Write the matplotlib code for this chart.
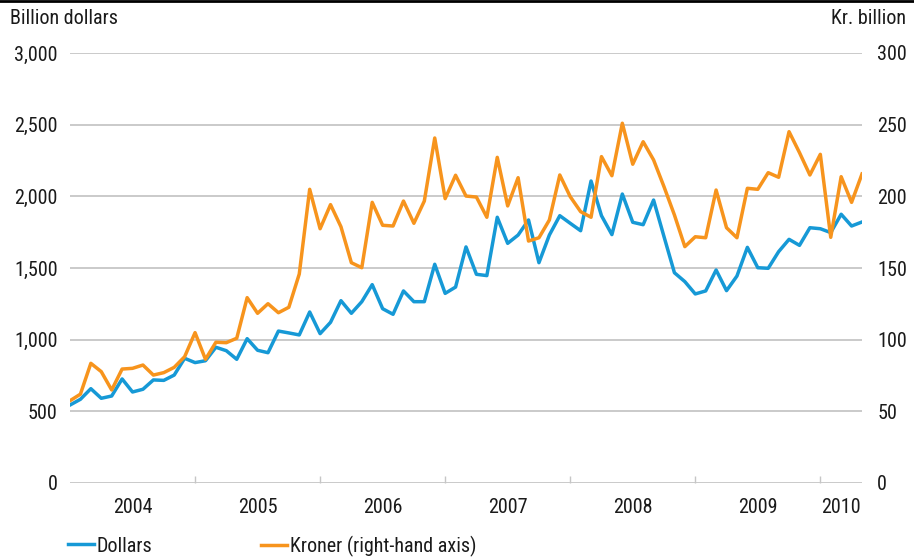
import matplotlib
matplotlib.use('Agg')
import matplotlib.pyplot as plt
from matplotlib.lines import Line2D
from matplotlib import font_manager

#=====================================================
# Monthly values, Jan 2004 - May 2010

dollars = [544, 584, 658, 591, 607, 726, 635, 654, 719, 716, 753, 870,
           840, 853, 947, 923, 863, 1007, 926, 909, 1060, 1047, 1033, 1193,
           1042, 1121, 1272, 1184, 1265, 1384, 1216, 1177, 1340, 1265, 1265, 1526,
           1323, 1367, 1647, 1456, 1447, 1854, 1672, 1730, 1835, 1537, 1730, 1865,
           1812, 1760, 2107, 1865, 1733, 2016, 1819, 1802, 1974, 1719, 1467, 1405,
           1319, 1340, 1486, 1342, 1444, 1644, 1502, 1498, 1614, 1700, 1658, 1781,
           1774, 1747, 1875, 1793, 1821]

kroner = [57.4, 62.0, 83.5, 77.7, 64.9, 79.5, 80.0, 82.3, 75.3, 77.0, 80.7, 88.1,
          104.9, 86.3, 98.2, 97.9, 101.0, 129.3, 118.4, 125.1, 118.8, 122.6, 145.8, 204.9,
          177.4, 194.2, 178.8, 153.7, 150.2, 195.8, 179.8, 179.3, 196.7, 181.2, 196.7, 240.7,
          198.4, 214.7, 200.2, 199.5, 185.4, 227.2, 193.3, 213.0, 168.8, 171.1, 183.5, 214.9,
          199.8, 189.3, 185.4, 227.7, 214.4, 251.0, 222.4, 238.1, 225.4, 206.7, 187.0, 164.9,
          171.8, 171.1, 204.4, 178.1, 171.1, 205.6, 204.9, 216.5, 213.3, 245.1, 230.5, 214.9,
          229.3, 171.4, 213.7, 195.8, 215.6]

years = ['2004', '2005', '2006', '2007', '2008', '2009', '2010']
left_ticks = [0, 500, 1000, 1500, 2000, 2500, 3000]
right_ticks = [0, 50, 100, 150, 200, 250, 300]

BLUE = '#1699d6'
ORANGE = '#f7941d'
GRID = '#c6c6c6'
TXT = '#1a1a1a'

#=====================================================

def pickFont():

    names = {f.name for f in font_manager.fontManager.ttflist}
    for cand in ['Liberation Sans Narrow', 'DejaVu Sans Condensed', 'Roboto Condensed',
                 'Open Sans Condensed', 'Liberation Sans']:
        if cand in names:
            return cand
    return 'DejaVu Sans'

#-----------------------------------------------------

def main():

    font = pickFont()
    plt.rcParams['font.family'] = [font, 'DejaVu Sans']
    narrow = font in ('Liberation Sans Narrow', 'DejaVu Sans Condensed', 'Roboto Condensed',
                      'Open Sans Condensed')
    fs = 14.5 if narrow else 12.5

    fig = plt.figure(figsize=(9.14, 5.57), dpi=100)
    ax = fig.add_axes([70/914, 74/557, 792/914, 430/557])
    ax2 = ax.twinx()

    n = len(dollars)
    months = list(range(n))

    ax.plot(months, dollars, color=BLUE, linewidth=2.5, zorder=3)
    ax2.plot(months, kroner, color=ORANGE, linewidth=2.5, zorder=3)

    ax.set_xlim(0, n - 1)
    ax.set_ylim(0, 3000)
    ax2.set_ylim(0, 300)

    ax.set_yticks(left_ticks)
    ax.set_yticklabels([f'{v:,}' for v in left_ticks])
    ax2.set_yticks(right_ticks)
    ax2.set_yticklabels([str(v) for v in right_ticks])

    for v in left_ticks:
        ax.axhline(v, color=GRID, linewidth=1.3, zorder=1)

    # year boundaries as ticks, labels centred in each year
    bounds = [12 * k for k in range(1, len(years))]
    ax.set_xticks(bounds)
    ax.set_xticklabels([])
    ax.tick_params(axis='x', direction='in', length=5, color=GRID, width=1)
    edges = [0] + bounds + [n - 1]
    for i, yr in enumerate(years):
        mid = (edges[i] + edges[i + 1]) / 2
        ax.text(mid, -0.035, yr, transform=ax.get_xaxis_transform(),
                ha='center', va='top', fontsize=fs, color=TXT)

    for a in (ax, ax2):
        for s in a.spines.values():
            s.set_visible(False)
    ax.tick_params(axis='y', length=0, pad=9, labelsize=fs, labelcolor=TXT)
    ax2.tick_params(axis='y', length=0, pad=11, labelsize=fs, labelcolor=TXT)

    fig.text(10/914, 1 - 18/557, 'Billion dollars', ha='left', va='center',
             fontsize=fs, color=TXT)
    fig.text(906/914, 1 - 18/557, 'Kr. billion', ha='right', va='center',
             fontsize=fs, color=TXT)

    # top rule
    fig.add_artist(Line2D([0, 1], [1 - 1/557, 1 - 1/557], color='black', linewidth=2))

    h1 = Line2D([], [], color=BLUE, linewidth=2.5)
    h2 = Line2D([], [], color=ORANGE, linewidth=2.5)
    for h, lab, x in [(h1, 'Dollars', 50/914), (h2, 'Kroner (right-hand axis)', 243/914)]:
        fig.legend([h], [lab], loc='center left', bbox_to_anchor=(x, 1 - 546/557),
                   frameon=False, handlelength=1.3, handletextpad=0.12,
                   fontsize=fs, labelcolor=TXT)

    fig.savefig('out.png', dpi=100)

    return

#=====================================================

if __name__ == '__main__':
    main()
